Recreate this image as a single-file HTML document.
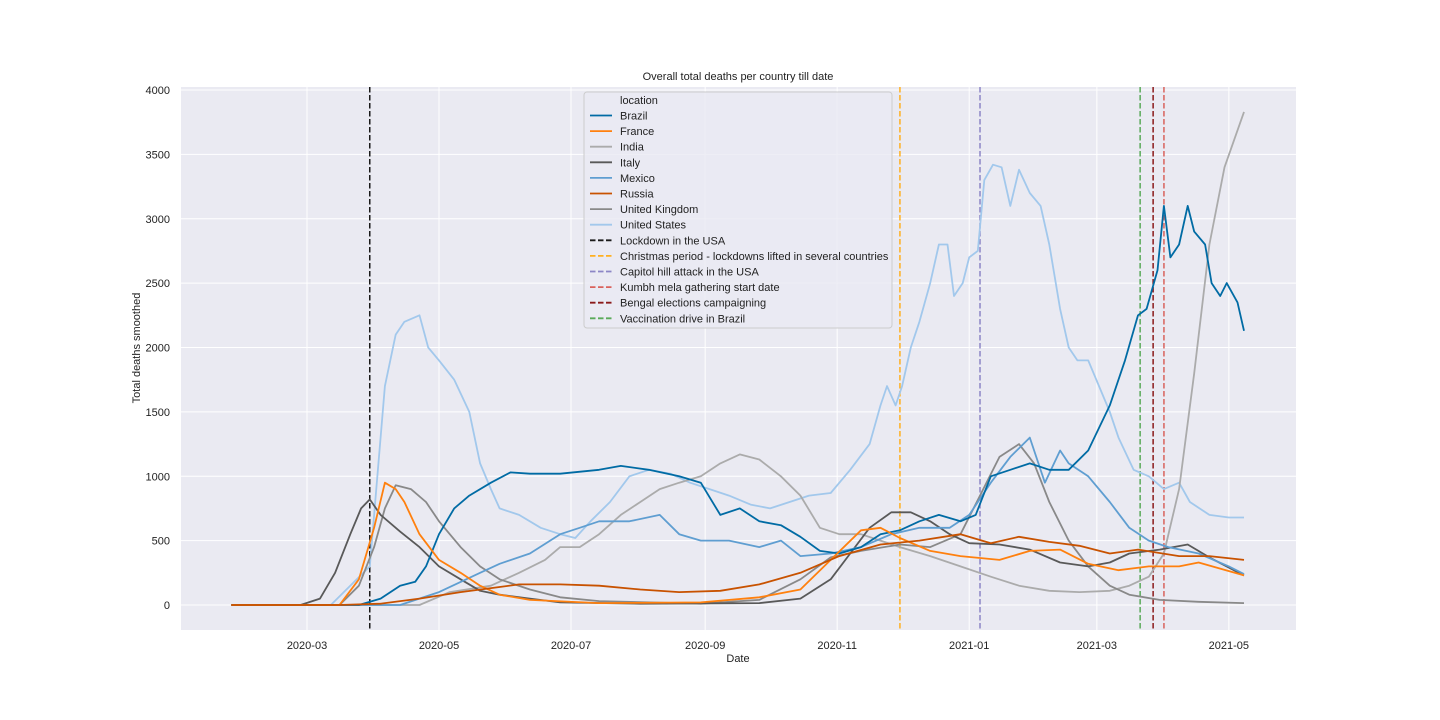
<!DOCTYPE html>
<html><head><meta charset="utf-8">
<style>
html,body{margin:0;padding:0;background:#fff;}
svg{display:block;font-family:"Liberation Sans","DejaVu Sans",sans-serif;}
</style></head>
<body>
<svg id="chart" width="1440" height="720">
<rect x="181" y="87" width="1115" height="543" fill="#eaeaf2"/>
<g id="grid"></g>
<g id="vlines"></g>
<g id="series"></g>
<g id="axes"></g>
<text x="738" y="80" text-anchor="middle" font-size="11" fill="#222">Overall total deaths per country till date</text>
<text x="738" y="662" text-anchor="middle" font-size="11" fill="#222">Date</text>
<text x="140" y="348" text-anchor="middle" font-size="11" fill="#222" transform="rotate(-90 140 348)">Total deaths smoothed</text>
<g id="legend"></g>
</svg>
<script>
// days relative to 2020-03-01
const xTickLabels = ["2020-03","2020-05","2020-07","2020-09","2020-11","2021-01","2021-03","2021-05"];
const xTickDays = [0,61,122,184,245,306,365,426];
const yTicks = [0,500,1000,1500,2000,2500,3000,3500,4000];

const usDays = [-35,11,29,36,41,45,52,56,61,68,75,80,85,89,98,108,117,124,131,140,149,158,168,177,186,195,205,214,223,232,242,251,260,265,268,272,275,279,283,288,292,296,299,303,306,310,313,317,321,325,329,334,339,343,348,352,356,361,366,371,375,382,389,396,403,408,417,426,433];
const usVals = [0,0,300,1700,2100,2200,2250,2000,1900,1750,1500,1100,900,750,700,600,550,520,650,800,1000,1050,1020,950,900,850,780,750,800,850,870,1050,1250,1550,1700,1550,1700,2000,2200,2500,2800,2800,2400,2500,2700,2750,3300,3420,3400,3100,3380,3200,3100,2800,2300,2000,1900,1900,1700,1500,1300,1050,1000,900,950,800,700,680,680];

const brDays = [-35,24,34,43,50,55,61,68,75,85,94,103,117,135,145,158,172,182,191,200,209,219,228,237,246,256,265,274,283,292,302,309,316,325,334,343,352,361,371,378,384,388,393,396,399,403,407,410,415,418,422,425,430,433];
const brVals = [0,0,50,150,180,300,550,750,850,950,1030,1020,1020,1050,1080,1050,1000,950,700,750,650,620,530,420,400,450,550,580,650,700,650,700,1000,1050,1100,1050,1050,1200,1550,1900,2250,2300,2600,3100,2700,2800,3100,2900,2800,2500,2400,2500,2350,2130];

const inDays = [-35,52,66,85,98,110,117,126,135,145,154,163,172,182,191,200,209,219,228,237,246,256,265,274,288,302,316,329,343,357,371,380,389,396,403,410,417,424,433];
const inVals = [0,0,100,150,250,350,450,450,550,700,800,900,950,1000,1100,1170,1130,1000,850,600,550,550,500,450,380,300,220,150,110,100,110,150,220,400,900,1800,2800,3400,3830];

const itDays = [-35,-3,6,13,20,25,29,34,43,52,61,71,80,89,103,117,154,209,228,242,251,260,270,279,288,297,306,320,334,348,361,371,380,394,407,417,433];
const itVals = [0,0,50,250,550,750,820,700,570,450,300,200,110,80,50,20,10,15,50,200,400,600,720,720,650,550,480,470,430,330,300,330,400,430,470,370,230];

const mxDays = [-35,43,61,80,89,103,117,126,135,149,163,172,182,195,209,219,228,242,256,270,283,297,306,316,325,334,341,348,352,361,371,380,389,398,412,426,433];
const mxVals = [0,0,100,250,320,400,550,600,650,650,700,550,500,500,450,500,380,400,450,550,600,600,700,950,1150,1300,950,1200,1100,1000,800,600,500,450,400,300,240];

const frDays = [-35,15,24,31,36,41,45,52,61,71,80,89,103,135,182,209,228,242,256,265,274,288,302,320,334,348,361,375,389,403,412,433];
const frVals = [0,0,200,600,950,900,800,550,350,250,150,80,40,15,20,60,120,350,580,600,520,420,380,350,420,430,320,270,300,300,330,230];

const ruDays = [-35,15,34,52,71,89,98,117,135,154,172,191,209,228,246,265,283,302,316,329,343,357,371,384,403,417,433];
const ruVals = [0,0,10,50,100,140,160,160,150,120,100,110,160,250,380,470,500,550,480,530,490,460,400,430,380,380,350];

const ukDays = [-35,15,24,31,36,41,48,55,61,71,80,89,103,117,135,182,209,228,242,256,274,288,302,311,320,329,336,343,352,361,371,380,394,412,433];
const ukVals = [0,0,150,450,750,930,900,800,650,450,300,200,120,60,30,10,40,200,370,420,470,450,550,850,1150,1250,1100,800,500,300,150,80,40,25,15];

const seriesNames = ["Brazil","France","India","Italy","Mexico","Russia","United Kingdom","United States"];
const eventNames = ["Lockdown in the USA","Christmas period - lockdowns lifted in several countries","Capitol hill attack in the USA","Kumbh mela gathering start date","Bengal elections campaigning","Vaccination drive in Brazil"];
const eventDays = [29,274,311,396,391,385];

const NS="http://www.w3.org/2000/svg";
function X(d){return 307 + d*2.164;}
function Y(v){return 605 - v*0.12875;}
function mk(tag,attrs,parent){const e=document.createElementNS(NS,tag);for(const k in attrs)e.setAttribute(k,attrs[k]);parent.appendChild(e);return e;}

const grid=document.getElementById('grid'), axes=document.getElementById('axes');
yTicks.forEach(v=>{
  const l=mk('line',{x1:181,x2:1296,y1:Y(v),y2:Y(v),stroke:'#fff','stroke-width':1},grid);
  
  
  const t=mk('text',{x:170,y:Y(v)+4,'text-anchor':'end','font-size':11,fill:'#222'},axes);
  t.textContent=v;
  
  
});
xTickDays.forEach((d,i)=>{
  const l=mk('line',{x1:X(d),x2:X(d),y1:87,y2:630,stroke:'#fff','stroke-width':1},grid);
  
  
  const t=mk('text',{x:X(d),y:649,'text-anchor':'middle','font-size':11,fill:'#222'},axes);
  t.textContent=xTickLabels[i];
  
  
});

const colors=["#006ba4","#ff800e","#ababab","#595959","#5f9ed1","#c85200","#898989","#a2c8ec"];
const data=[[brDays,brVals],[frDays,frVals],[inDays,inVals],[itDays,itVals],[mxDays,mxVals],[frDays===null?0:ruDays,ruVals],[ukDays,ukVals],[usDays,usVals]];
const sg=document.getElementById('series');
const order=[7,2,6,3,4,0,1,5];
order.forEach(i=>{
  const [ds,vs]=data[i];
  const pts=ds.map((d,j)=>X(d).toFixed(1)+','+Y(vs[j]).toFixed(1)).join(' ');
  const p=mk('polyline',{points:pts,fill:'none',stroke:colors[i],'stroke-width':1.8,'stroke-linejoin':'round'},sg);
  
  
});

const ecolors=["#1a1a1a","#ffb020","#8c86c6","#d9625c","#8b1a1a","#5aaa5a"];
const vg=document.getElementById('vlines');
eventDays.forEach((d,i)=>{
  const l=mk('line',{x1:X(d),x2:X(d),y1:87,y2:630,stroke:ecolors[i],'stroke-width':1.5,'stroke-dasharray':'5.5,2.5'},vg);
  
  
});

const lg=document.getElementById('legend');
const box=mk('rect',{x:584,y:92,width:308,height:236,fill:'#eaeaf2','fill-opacity':0.8,stroke:'#cccccc',rx:3},lg);


const lt=mk('text',{x:620,y:104,'font-size':11,fill:'#222'},lg);
lt.textContent='location';


const allNames=seriesNames.concat(eventNames);
const allColors=colors.concat(ecolors);
allNames.forEach((n,i)=>{
  const y=115.5+i*15.6;
  const l=mk('line',{x1:590,x2:612,y1:y,y2:y,stroke:allColors[i],'stroke-width':1.8},lg);
  if(i>=8)l.setAttribute('stroke-dasharray','5.5,2.5');
  
  
  const t=mk('text',{x:620,y:y+4,'font-size':11,fill:'#222'},lg);
  t.textContent=n;
  
  
});
</script>
</body></html>
